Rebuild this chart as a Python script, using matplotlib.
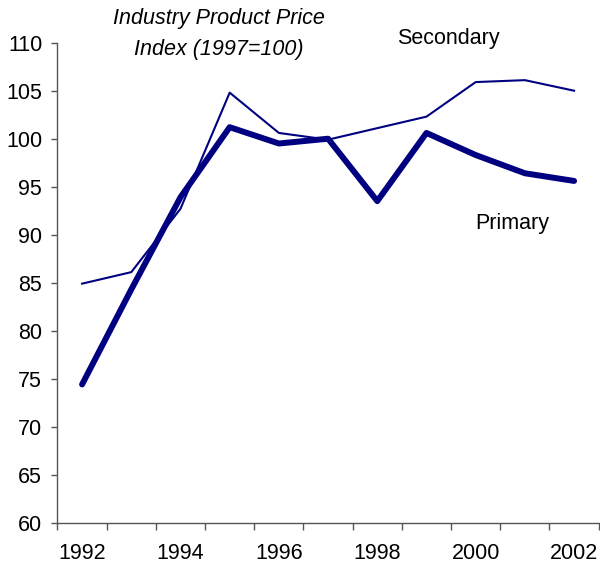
import matplotlib
matplotlib.use("Agg")
import matplotlib.pyplot as plt
import numpy as np

plt.rcParams['font.family'] = ['Liberation Sans', 'DejaVu Sans']

years = [1992, 1993, 1994, 1995, 1996, 1997, 1998, 1999, 2000, 2001, 2002]
primary = [74.4, 84.3, 93.9, 101.2, 99.5, 100.0, 93.5, 100.6, 98.3, 96.4, 95.6]
secondary = [84.9, 86.1, 92.7, 104.8, 100.6, 99.9, 101.1, 102.3, 105.9, 106.1, 105.0]
year_labels = ['1992', '1994', '1996', '1998', '2000', '2002']

navy = '#000080'
axis_col = '#555555'
fs = 15.5


def main():
    fig = plt.figure(figsize=(6.0, 5.65), dpi=100)
    ax = fig.add_axes([0.0958, 0.0749, 0.902, 0.8495])

    x = np.arange(len(years))
    ax.plot(x, secondary, color=navy, lw=1.5)
    ax.plot(x, primary, color=navy, lw=4.3, solid_capstyle='round', solid_joinstyle='round')

    ax.set_xlim(-0.5, len(years) - 0.5)
    ax.set_ylim(60, 110)
    ax.set_yticks(np.arange(60, 111, 5))

    # labels on every other year, tick marks between categories
    ax.set_xticks(x[::2])
    ax.set_xticklabels(year_labels)
    ax.set_xticks(np.arange(-0.5, len(years)), minor=True)
    ax.tick_params(axis='x', which='major', length=0, pad=14.5, labelsize=fs)
    ax.tick_params(axis='x', which='minor', length=5, width=1, color=axis_col, direction='out')
    ax.tick_params(axis='y', length=4.5, width=1, color=axis_col, pad=6.5, labelsize=fs)

    for s in ['top', 'right']:
        ax.spines[s].set_visible(False)
    for s in ['left', 'bottom']:
        ax.spines[s].set_color(axis_col)
        ax.spines[s].set_linewidth(1)

    fig.text(0.365, 0.967, 'Industry Product Price', ha='center', va='center',
             fontsize=fs, style='italic')
    fig.text(0.365, 0.912, 'Index (1997=100)', ha='center', va='center',
             fontsize=fs, style='italic')
    fig.text(0.748, 0.931, 'Secondary', ha='center', va='center', fontsize=fs)
    fig.text(0.853, 0.605, 'Primary', ha='center', va='center', fontsize=fs)

    fig.savefig('out.png', dpi=100)


if __name__ == "__main__":
    main()
